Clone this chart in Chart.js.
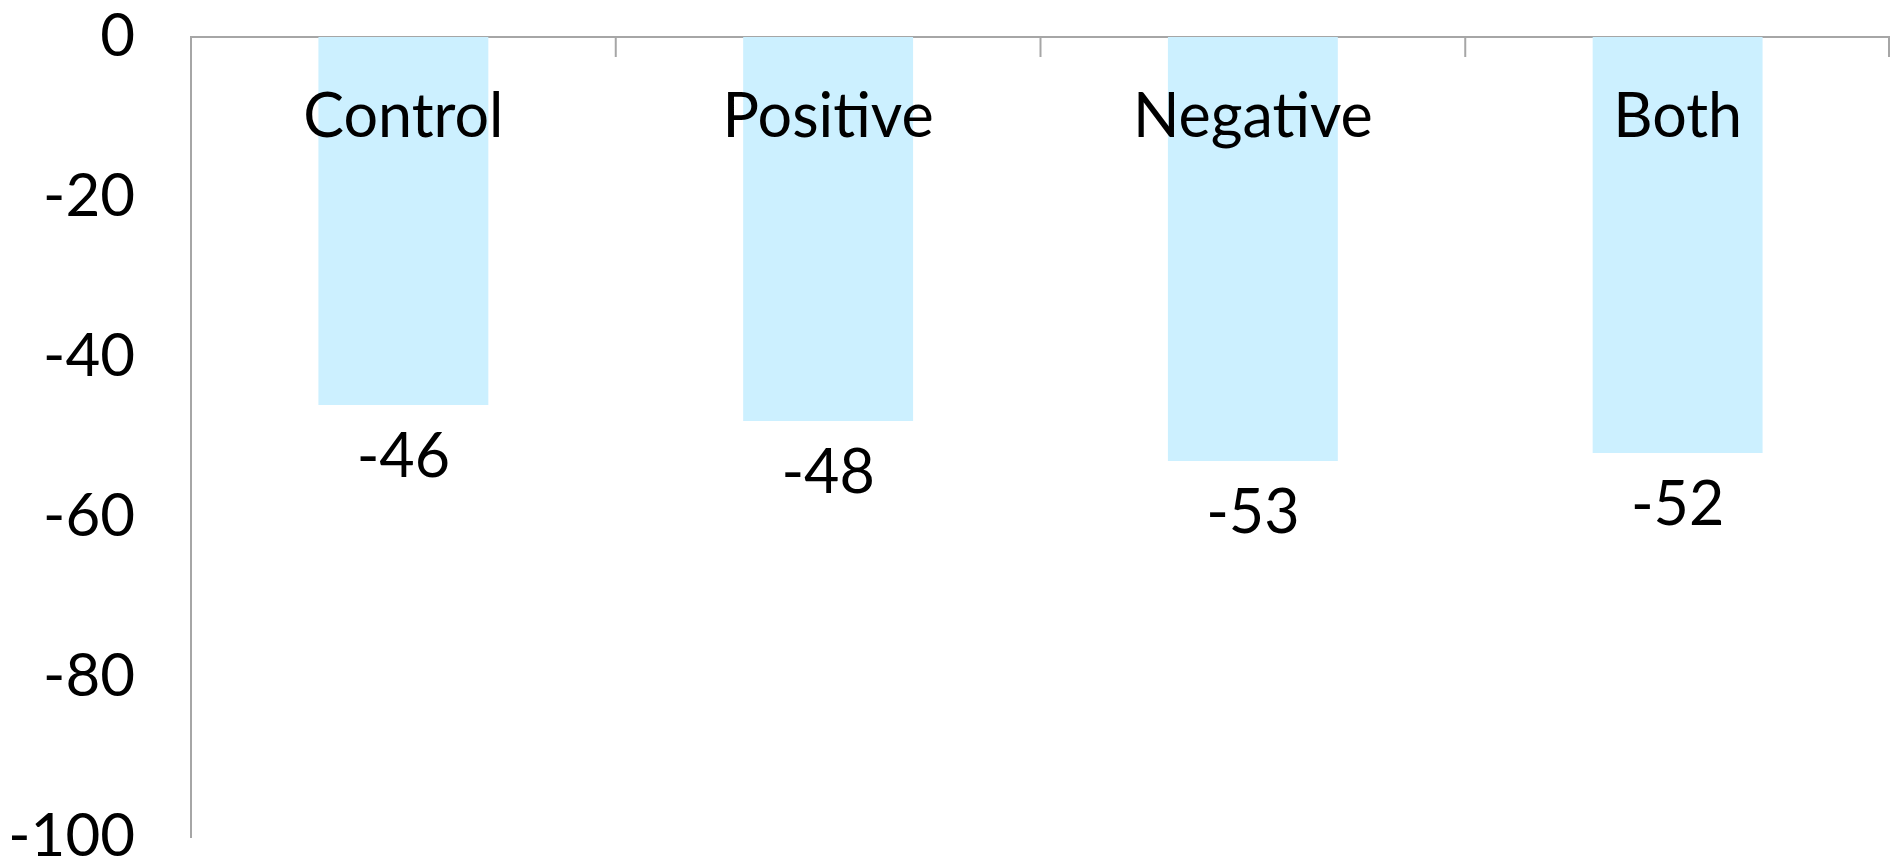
<!DOCTYPE html>
<html>
<head>
<meta charset="utf-8">
<script src="https://cdn.jsdelivr.net/npm/chart.js@4"></script>
<style>
  html, body { margin: 0; padding: 0; background: #fff; }
  #wrap { width: 1890px; height: 859px; }
</style>
</head>
<body>
<div id="wrap"><canvas id="barChart"></canvas></div>
<script>
const categories = ['Control', 'Positive', 'Negative', 'Both'];
const values = [-46, -48, -53, -52];
const yMin = -100;
const yMax = 0;
const yStep = 20;

const FONT = 'Lato, "Open Sans", sans-serif';
const axisGray = '#a6a6a6';

// draws category names near the bar base, values under the bar end,
// and the small boundary ticks hanging under the top axis
const barText = {
  id: 'barText',
  afterDatasetsDraw(chart) {
    const { ctx, scales: { x, y } } = chart;
    const meta = chart.getDatasetMeta(0);
    ctx.save();
    ctx.fillStyle = '#000';
    ctx.font = '61px ' + FONT;
    ctx.textAlign = 'center';
    ctx.textBaseline = 'alphabetic';
    meta.data.forEach((bar, i) => {
      ctx.fillText(categories[i], bar.x, bar.base + 100);
      ctx.fillText(String(values[i]), bar.x, bar.y + 72);
    });

    ctx.strokeStyle = axisGray;
    ctx.lineWidth = 2;
    const top = chart.chartArea.top;
    for (let i = 0; i <= categories.length; i++) {
      let px;
      if (i === 0) px = chart.chartArea.left;
      else if (i === categories.length) px = chart.chartArea.right - 1;
      else px = (x.getPixelForValue(i - 1) + x.getPixelForValue(i)) / 2;
      ctx.beginPath();
      ctx.moveTo(px, top);
      ctx.lineTo(px, top + 20);
      ctx.stroke();
    }
    ctx.restore();
  }
};

new Chart(document.getElementById('barChart').getContext('2d'), {
  type: 'bar',
  data: {
    labels: categories,
    datasets: [{
      data: values,
      backgroundColor: '#ccf0ff',
      borderWidth: 0,
      barPercentage: 0.4,
      categoryPercentage: 1.0
    }]
  },
  options: {
    responsive: true,
    maintainAspectRatio: false,
    animation: false,
    layout: { padding: { top: 37, bottom: 22, right: 0, left: 0 } },
    plugins: {
      legend: { display: false },
      tooltip: { enabled: false }
    },
    scales: {
      x: {
        position: 'top',
        grid: { display: true, drawOnChartArea: false, drawTicks: false },
        border: { display: true, color: axisGray, width: 2 },
        ticks: { display: false },
        afterFit(scale) {
          scale.height = 0;
          scale.paddingLeft = 0;
          scale.paddingRight = 0;
        }
      },
      y: {
        min: yMin,
        max: yMax,
        grid: { display: false, drawTicks: false },
        border: { display: true, color: axisGray, width: 2 },
        ticks: {
          stepSize: yStep,
          color: '#000',
          padding: 56,
          font: { family: FONT, size: 60 }
        },
        afterFit(scale) {
          scale.width = 191;
          scale.paddingTop = 0;
          scale.paddingBottom = 0;
        }
      }
    }
  },
  plugins: [barText]
});
</script>
</body>
</html>
